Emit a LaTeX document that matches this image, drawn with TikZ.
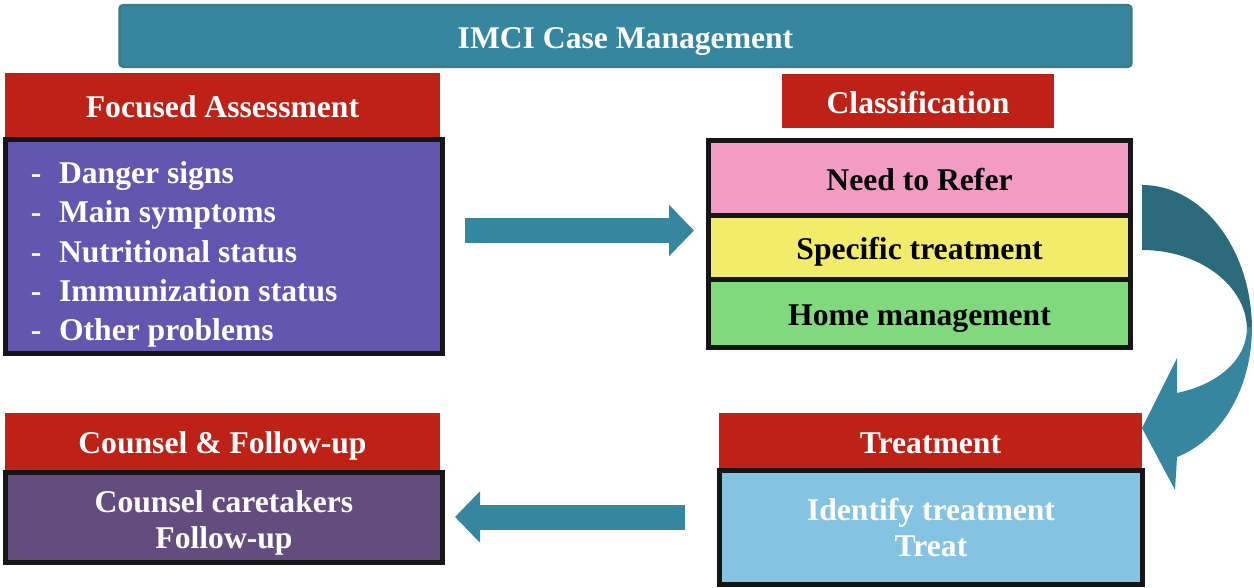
\documentclass[tikz,border=0pt]{standalone}
\usepackage{fontspec}
\setmainfont{Liberation Serif}
\usetikzlibrary{arrows.meta}
\definecolor{imciteal}{HTML}{35869E}
\definecolor{imcitealdark}{HTML}{2B6B7B}
\definecolor{imciedge}{HTML}{3A7C8C}
\definecolor{imcired}{HTML}{BE2217}
\definecolor{assessfill}{HTML}{6356B0}
\definecolor{counselfill}{HTML}{654C7E}
\definecolor{referfill}{HTML}{F29BC3}
\definecolor{specfill}{HTML}{F2EC6B}
\definecolor{homefill}{HTML}{80D97D}
\definecolor{treatfill}{HTML}{85C3E3}
\definecolor{edge}{HTML}{161616}

\begin{document}
\begin{tikzpicture}[x=0.02cm, y=-0.02cm,
        txt/.style={font=\bfseries\fontsize{18}{21.5}\selectfont, align=center, text height=14.2pt, text depth=0pt},
        hdr/.style={txt, fill=imcired, text=white, inner sep=0pt},
        box/.style={txt, draw=edge, line width=0.1cm, inner sep=0pt},
        lines/.style={font=\bfseries\fontsize{18}{#1}\selectfont, align=center, text=white, inner sep=0pt},
        item/.style={font=\bfseries\fontsize{18}{22}\selectfont, text=white, inner sep=0pt, anchor=base west},
        blockarrow/.style={imciteal, line width=0.5cm, -{Triangle[width=1cm, length=0.5cm]}}]
            \useasboundingbox (0,0) rectangle (1254,588);
            \node[txt, fill=imciteal, draw=imciedge, line width=1.5pt, rounded corners=2pt, text=white,
                minimum width=20.24cm, minimum height=1.23cm] (title) at (625.5,36) {IMCI Case Management};
            % assessment
            \node[hdr, minimum width=8.7cm, minimum height=1.28cm] (hAssess) at (222.5,105) {Focused Assessment};
            \node[box, fill=assessfill, minimum width=8.74cm, minimum height=4.28cm] (bAssess) at (224,246.5) {};
            \foreach \t [count=\i] in {Danger signs, Main symptoms, Nutritional status, Immunization status, Other problems}
                \node[item] (item\i) at (30.6,{144.5+39.2*\i}) {-\hspace{10pt}\t};
            % classification
            \node[hdr, minimum width=5.44cm, minimum height=1.08cm] (hClass) at (918,101) {Classification};
            \node[box, fill=referfill, minimum width=8.44cm, minimum height=1.5cm] (refer) at (919.5,178) {Need to Refer};
            \node[box, fill=specfill, minimum width=8.44cm, minimum height=1.28cm] (spec) at (919.5,247.5) {Specific treatment};
            \node[box, fill=homefill, minimum width=8.44cm, minimum height=1.36cm] (home) at (919.5,313.5) {Home management};
            % treatment
            \node[hdr, minimum width=8.46cm, minimum height=1.14cm] (hTreat) at (930.5,441.5) {Treatment};
            \node[box, fill=treatfill, minimum width=8.46cm, minimum height=2.28cm] (bTreat) at (931,527.5) {};
            \node[lines=21pt] (tTreat) at (bTreat.center) {Identify treatment\\Treat};
            % counsel
            \node[hdr, minimum width=8.7cm, minimum height=1.14cm] (hCounsel) at (222.5,441.5) {Counsel \& Follow-up};
            \node[box, fill=counselfill, minimum width=8.74cm, minimum height=1.8cm] (bCounsel) at (224,517.5) {};
            \node[lines=20.3pt] (tCounsel) at (224,522.6) {Counsel caretakers\\Follow-up};
            % arrows
            \coordinate (rStart) at (465,230.5);
            \coordinate (rEnd) at (694,230.5);
            \draw[blockarrow] (rStart) -- (rEnd);
            \coordinate (lStart) at (685,517);
            \coordinate (lEnd) at (455,517);
            \draw[blockarrow] (lStart) -- (lEnd);
            \fill[imcitealdark] (1142,185) .. controls (1203,185) and (1252,250) .. (1252,330)
                -- (1247,330) .. controls (1247,286) and (1200,250) .. (1142,250) -- cycle;
            \fill[imciteal] (1252,327) .. controls (1252,390) and (1220,440) .. (1177,457)
                -- (1175,490) -- (1142,428) -- (1177,358) -- (1177,393)
                .. controls (1215,385) and (1247,362) .. (1247,327) -- cycle;
        \end{tikzpicture}
\end{document}
